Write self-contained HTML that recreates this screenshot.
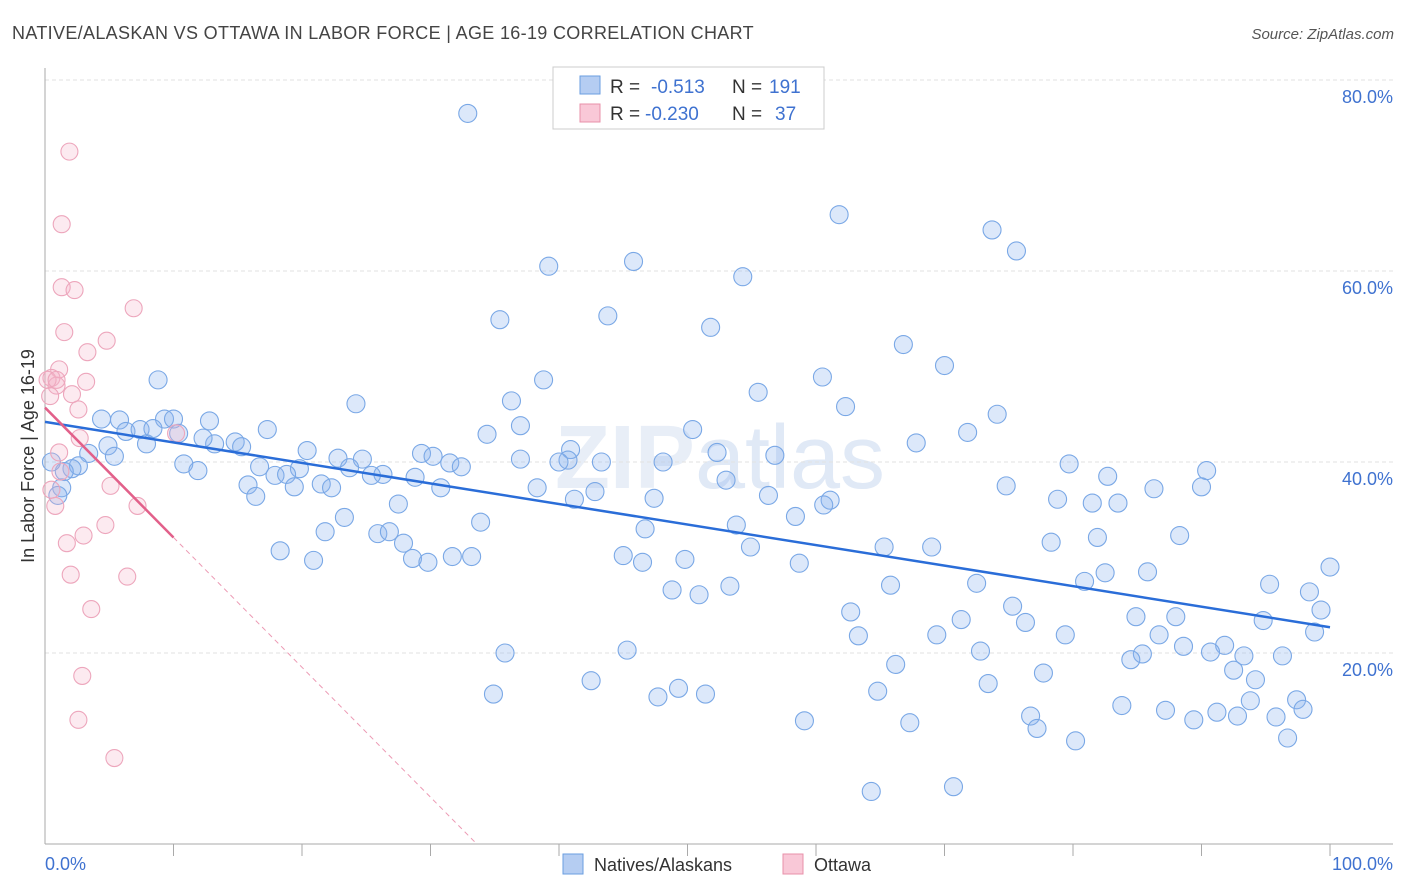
<!DOCTYPE html>
<html><head><meta charset="utf-8"><style>
body{margin:0;background:#fff;font-family:"Liberation Sans",sans-serif}
svg{display:block}
</style></head><body>
<svg id="c" width="1406" height="892">
<text x="12" y="39" font-size="18" fill="#444" letter-spacing="0.33">NATIVE/ALASKAN VS OTTAWA IN LABOR FORCE | AGE 16-19 CORRELATION CHART</text>
<text x="1394" y="39" font-size="15" fill="#555" font-style="italic" text-anchor="end">Source: ZipAtlas.com</text>
<text x="720" y="488" font-size="90" fill="#e8eef7" text-anchor="middle" font-weight="bold">ZIP<tspan font-weight="normal" fill="#e0e9f6">atlas</tspan></text>
<g id="grid"></g>
<g id="axes"></g>
<g id="pts"></g>
<g id="trend"></g>
<text transform="translate(34,456) rotate(-90)" font-size="18" fill="#333" text-anchor="middle">In Labor Force | Age 16-19</text>
<text x="45" y="870" font-size="18" fill="#3f72d0">0.0%</text>
<text x="1393" y="870" font-size="18" fill="#3f72d0" text-anchor="end">100.0%</text>
<g>
<rect x="553" y="67" width="271" height="62" fill="#fff" stroke="#ccc"/>
<rect x="580" y="76" width="20" height="18" fill="#b5cdf2" stroke="#6a9ee0"/>
<rect x="580" y="104" width="20" height="18" fill="#f9c8d7" stroke="#e890aa"/>
<text x="610" y="93" font-size="19" fill="#333">R = <tspan x="651" fill="#3f72d0">-0.513</tspan><tspan x="732">N = </tspan><tspan x="769" fill="#3f72d0">191</tspan></text>
<text x="610" y="120" font-size="19" fill="#333">R = <tspan x="645" fill="#3f72d0">-0.230</tspan><tspan x="732">N = </tspan><tspan x="775" fill="#3f72d0">37</tspan></text>
</g>
<g>
<rect x="563" y="854" width="20" height="20" fill="#b5cdf2" stroke="#6a9ee0"/>
<text x="594" y="871" font-size="18" fill="#333">Natives/Alaskans</text>
<rect x="783" y="854" width="20" height="20" fill="#f9c8d7" stroke="#e890aa"/>
<text x="814" y="871" font-size="18" fill="#333">Ottawa</text>
</g>
</svg>
<script>
const yTicks=[20,40,60,80];
const xTickCount=10;
const blueX=[32.9,61.8,73.7,75.6,39.2,45.8,54.3,35.4,43.8,51.8,66.8,70.0,8.8,38.8,60.5,55.5,24.2,36.3,62.3,74.1,4.4,5.8,9.3,10.0,12.8,6.3,7.4,8.4,10.4,37.0,34.4,50.4,71.8,17.3,4.9,7.9,13.2,12.3,14.8,15.3,67.8,40.9,3.4,5.4,20.4,29.3,30.2,52.3,56.8,40.7,37.0,40.0,31.5,32.4,43.3,48.1,79.7,90.4,2.6,2.1,1.5,10.8,11.9,16.7,19.8,22.8,24.7,23.7,26.3,25.4,17.9,18.8,28.8,53.0,82.7,74.8,90.0,86.3,1.3,15.8,16.4,19.4,21.5,22.3,30.8,38.3,41.2,42.8,47.4,56.3,78.8,81.5,83.5,61.1,60.6,27.5,33.9,23.3,58.4,46.7,53.8,21.8,25.9,26.8,27.9,81.9,88.3,78.3,18.3,20.9,28.6,29.8,31.7,33.2,45.0,46.5,49.8,54.9,58.7,65.3,69.0,100.0,80.9,82.5,85.8,95.3,98.4,72.5,65.8,48.8,50.9,53.3,62.7,75.3,76.3,71.3,84.9,88.0,99.3,94.8,98.8,63.3,69.4,79.4,86.7,88.6,91.8,90.7,45.3,35.8,72.8,85.4,84.5,93.3,96.3,66.2,92.5,94.2,77.7,42.5,49.3,51.4,47.7,34.9,64.8,73.4,83.8,93.8,87.2,91.2,97.4,97.9,76.7,92.8,89.4,95.8,59.1,67.3,77.2,80.2,96.7,64.3,70.7,0.5,1.0];
const blueY=[76.5,65.9,64.3,62.1,60.5,61.0,59.4,54.9,55.3,54.1,52.3,50.1,48.6,48.6,48.9,47.3,46.1,46.4,45.8,45.0,44.5,44.4,44.5,44.5,44.3,43.2,43.4,43.5,43.0,43.8,42.9,43.4,43.1,43.4,41.7,41.9,41.9,42.5,42.1,41.6,42.0,41.3,40.9,40.6,41.2,40.9,40.6,41.0,40.7,40.2,40.3,40.0,39.9,39.5,40.0,40.0,39.8,39.1,39.6,39.3,39.0,39.8,39.1,39.5,39.3,40.4,40.3,39.4,38.7,38.6,38.6,38.7,38.4,38.1,38.5,37.5,37.4,37.2,37.3,37.6,36.4,37.4,37.7,37.3,37.3,37.3,36.1,36.9,36.2,36.5,36.1,35.7,35.7,36.0,35.5,35.6,33.7,34.2,34.3,33.0,33.4,32.7,32.5,32.7,31.5,32.1,32.3,31.6,30.7,29.7,29.9,29.5,30.1,30.1,30.2,29.5,29.8,31.1,29.4,31.1,31.1,29.0,27.5,28.4,28.5,27.2,26.4,27.3,27.1,26.6,26.1,27.0,24.3,24.9,23.2,23.5,23.8,23.8,24.5,23.4,22.2,21.8,21.9,21.9,21.9,20.7,20.8,20.1,20.3,20.0,20.2,19.9,19.3,19.7,19.7,18.8,18.2,17.2,17.9,17.1,16.3,15.7,15.4,15.7,16.0,16.8,14.5,15.0,14.0,13.8,15.1,14.1,13.4,13.4,13.0,13.3,12.9,12.7,12.1,10.8,11.1,5.5,6.0,40.0,36.5];
const pinkX=[1.9,1.3,1.3,2.3,6.9,1.5,4.8,3.3,1.1,0.5,0.9,0.2,3.2,2.1,2.6,0.4,2.7,1.1,10.2,1.2,3.0,0.8,5.1,7.2,4.7,1.7,2.0,6.4,3.6,2.9,2.6,5.4,0.5,0.9];
const pinkY=[72.5,64.9,58.3,58.0,56.1,53.6,52.7,51.5,49.7,48.8,48.0,48.6,48.4,47.1,45.5,46.9,42.5,41.0,43.0,39.0,32.3,35.4,37.5,35.4,33.4,31.5,28.2,28.0,24.6,17.6,13.0,9.0,37.1,48.6];
const blueTrend=[44.2,22.7];
const pinkTrend=[45.7,32.1];
const pinkTrendEndX=10;

const X0=45,X1=1330,Y0=844,PY=9.55;
const sx=v=>X0+(X1-X0)*v/100;
const sy=v=>Y0-PY*v;
const NS='http://www.w3.org/2000/svg';
function mk(tag,attrs,parent){const e=document.createElementNS(NS,tag);for(const k in attrs)e.setAttribute(k,attrs[k]);parent.appendChild(e);return e;}
const grid=document.getElementById('grid'),axes=document.getElementById('axes'),pts=document.getElementById('pts'),trend=document.getElementById('trend');
yTicks.forEach(t=>{
 const l=mk('line',{x1:45,x2:1393,y1:sy(t),y2:sy(t),stroke:'#e2e2e2','stroke-dasharray':'4,3'},grid);
 
 
 const tx=mk('text',{x:1393,y:sy(t)+23,'font-size':18,fill:'#3f72d0','text-anchor':'end'},grid);
 tx.textContent=t.toFixed(1)+'%';
 
 
});
const ya=mk('line',{x1:45,x2:45,y1:68,y2:Y0,stroke:'#aaa'},axes);


const xa=mk('line',{x1:45,x2:1393,y1:Y0,y2:Y0,stroke:'#aaa'},axes);


for(let i=1;i<=xTickCount;i++){
 const t=mk('line',{x1:sx(i*10),x2:sx(i*10),y1:Y0,y2:Y0+12,stroke:'#aaa'},axes);
 
 
}
blueX.forEach((x,i)=>{
 const c=mk('circle',{cx:sx(x),cy:sy(blueY[i]),r:9,fill:'rgba(140,180,240,0.3)',stroke:'#7aa8e6','stroke-width':1.1},pts);
 
 
});
pinkX.forEach((x,i)=>{
 const c=mk('circle',{cx:sx(x),cy:sy(pinkY[i]),r:8.5,fill:'rgba(245,180,200,0.28)',stroke:'#eda6bc','stroke-width':1.1},pts);
 
 
});
const bt=mk('line',{x1:sx(0),y1:sy(blueTrend[0]),x2:sx(100),y2:sy(blueTrend[1]),stroke:'#2a6dd8','stroke-width':2.5},trend);


const slope=(pinkTrend[1]-pinkTrend[0])/pinkTrendEndX;
const zeroX=-pinkTrend[0]/slope;
const pt=mk('line',{x1:sx(0),y1:sy(pinkTrend[0]),x2:sx(pinkTrendEndX),y2:sy(pinkTrend[1]),stroke:'#e2608a','stroke-width':2.5},trend);


const pd=mk('line',{x1:sx(pinkTrendEndX),y1:sy(pinkTrend[1]),x2:sx(zeroX),y2:sy(0),stroke:'#ec9ab4','stroke-width':1,'stroke-dasharray':'5,4'},trend);


</script>
</body></html>
